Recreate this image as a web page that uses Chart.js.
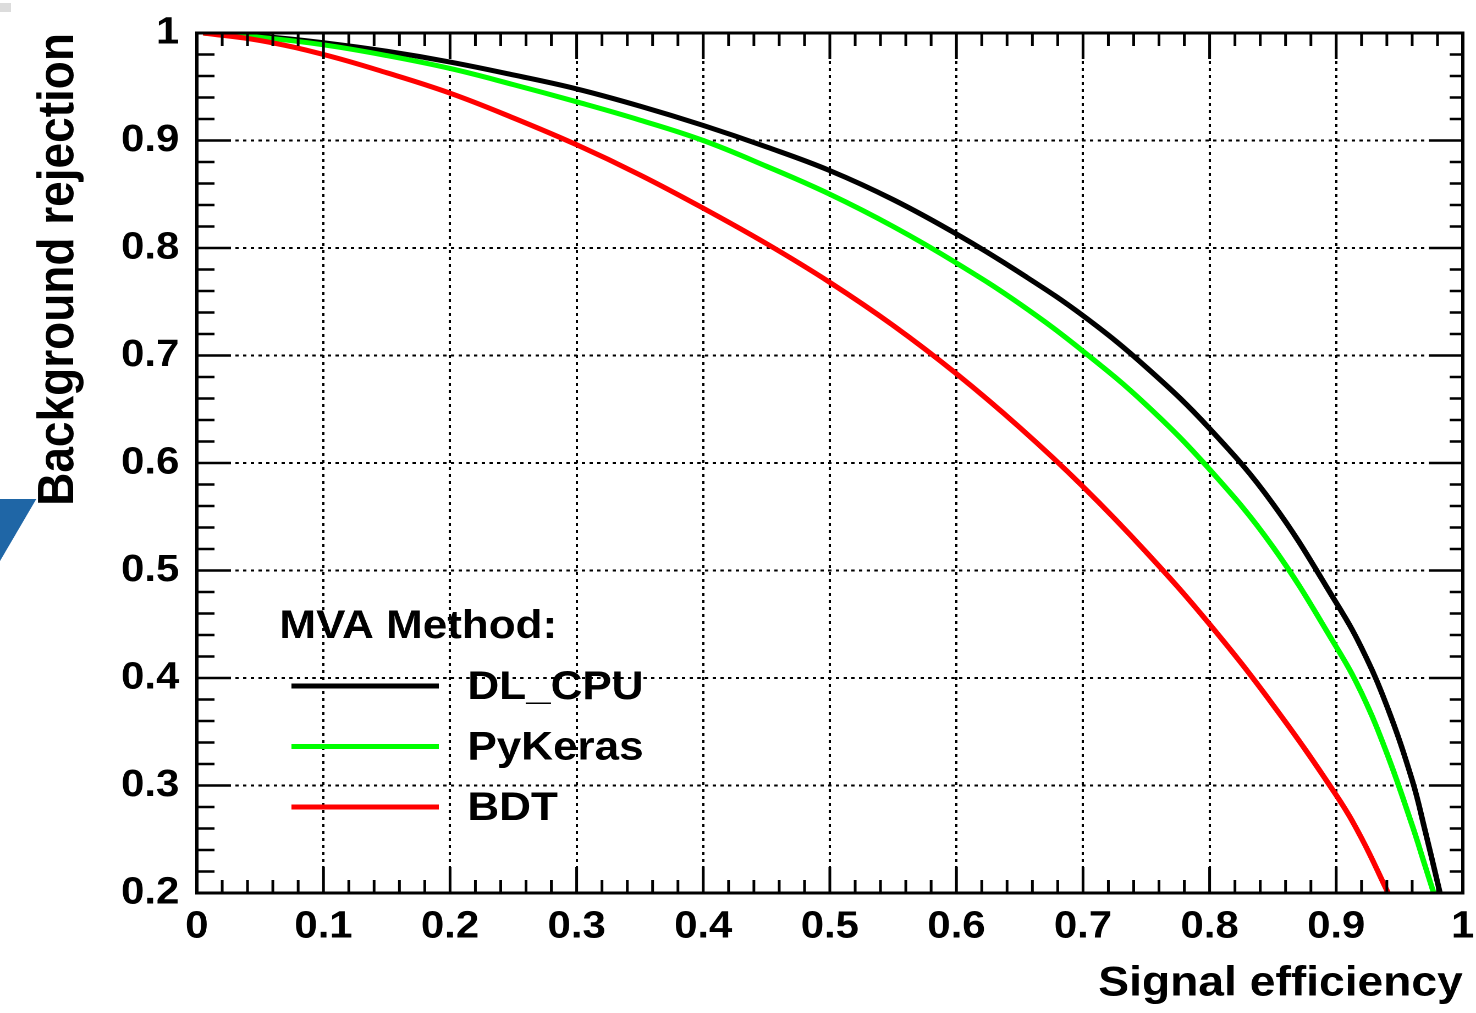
<!DOCTYPE html>
<html>
<head>
<meta charset="utf-8">
<title>ROC curves</title>
<script src="https://cdn.jsdelivr.net/npm/chart.js@4.4.1/dist/chart.umd.min.js"></script>
<style>
  html, body { margin: 0; padding: 0; background: #fff; overflow: hidden; }
  /* the reference is a slightly wide-stretched ROOT canvas, so draw narrow and stretch */
  #roc { display: block; width: 1476px; height: 1013px; }
</style>
</head>
<body>
<canvas id="roc" width="1342" height="1013" style="width:1476px;height:1013px"></canvas>
<script>
// ===== ROC data (signal efficiency vs background rejection) =====
const dlCpuEff   = [0.005, 0.05, 0.1, 0.15, 0.2, 0.25, 0.3, 0.35, 0.4, 0.45, 0.5, 0.55, 0.6, 0.65, 0.7, 0.75, 0.8, 0.85, 0.9, 0.92, 0.94, 0.96, 0.97, 0.98, 0.982];
const dlCpuRej   = [1.000, 0.997, 0.991, 0.983, 0.973, 0.961, 0.948, 0.932, 0.914, 0.894, 0.872, 0.845, 0.813, 0.777, 0.737, 0.689, 0.632, 0.562, 0.470, 0.428, 0.374, 0.305, 0.259, 0.210, 0.200];
const pyKerasEff = [0.005, 0.05, 0.1, 0.15, 0.2, 0.25, 0.3, 0.35, 0.4, 0.45, 0.5, 0.55, 0.6, 0.65, 0.7, 0.75, 0.8, 0.85, 0.9, 0.92, 0.94, 0.96, 0.97, 0.977];
const pyKerasRej = [1.000, 0.996, 0.989, 0.979, 0.967, 0.952, 0.936, 0.919, 0.900, 0.876, 0.850, 0.820, 0.786, 0.748, 0.704, 0.654, 0.594, 0.522, 0.429, 0.386, 0.330, 0.263, 0.226, 0.200];
const bdtEff     = [0.005, 0.05, 0.1, 0.15, 0.2, 0.25, 0.3, 0.35, 0.4, 0.45, 0.5, 0.55, 0.6, 0.65, 0.7, 0.75, 0.8, 0.85, 0.9, 0.92, 0.941];
const bdtRej     = [1.000, 0.993, 0.980, 0.963, 0.944, 0.921, 0.896, 0.868, 0.837, 0.804, 0.768, 0.728, 0.683, 0.633, 0.578, 0.517, 0.450, 0.375, 0.291, 0.251, 0.200];

const methodNames  = ['DL_CPU', 'PyKeras', 'BDT'];
const methodColors = ['#000000', '#00ff00', '#ff0000'];
const legendHeader = 'MVA Method:';
const xTitle = 'Signal efficiency';
const yTitle = 'Background rejection';

Chart.defaults.font.family = "'Liberation Sans', Arial, Helvetica, sans-serif";
Chart.defaults.font.weight = 'bold';
Chart.defaults.color = '#000';

const toPoints = (xs, ys) => xs.map((v, i) => ({ x: v, y: ys[i] }));
const rootLabel = v => String(Math.round(v * 10) / 10);   // ROOT prints 1 and 0, not 1.0

// ROOT-like frame: inner ticks on all four sides + legend box
const rootFrame = {
    id: 'rootFrame',
    beforeDraw(chart) {
        const { ctx, width, height } = chart;
        ctx.save();
        ctx.fillStyle = '#fff';
        ctx.fillRect(0, 0, width, height);
        // leftovers of the slide behind the plot
        ctx.fillStyle = '#dcdcdc';
        ctx.fillRect(0, 3, 10, 9);
        ctx.fillStyle = '#1f66a6';
        ctx.beginPath();
        ctx.moveTo(0, 499); ctx.lineTo(33, 499); ctx.lineTo(0, 561);
        ctx.closePath(); ctx.fill();
        ctx.restore();
    },
    afterDraw(chart) {
        const { ctx, chartArea: a, scales: { x, y } } = chart;
        ctx.save();
        ctx.strokeStyle = '#000';
        ctx.lineWidth = 2.5;
        ctx.beginPath();
        for (let i = 0; i <= 50; i++) {
            const px = x.getPixelForValue(i / 50);
            const len = i % 5 === 0 ? 26 : 13;
            ctx.moveTo(px, a.bottom); ctx.lineTo(px, a.bottom - len);
            ctx.moveTo(px, a.top); ctx.lineTo(px, a.top + len);
        }
        for (let i = 0; i <= 40; i++) {
            const py = y.getPixelForValue(0.2 + i * 0.02);
            const major = i % 5 === 0;
            ctx.moveTo(a.left, py); ctx.lineTo(a.left + (major ? 31 : 16), py);
            ctx.moveTo(a.right, py); ctx.lineTo(a.right - (major ? 31 : 12), py);
        }
        ctx.stroke();
        ctx.lineWidth = 3;
        ctx.strokeRect(a.left, a.top, a.right - a.left, a.bottom - a.top);

        // legend
        ctx.fillStyle = '#000';
        ctx.font = "bold 40px 'Liberation Sans', Arial, sans-serif";
        ctx.textBaseline = 'alphabetic';
        ctx.textAlign = 'left';
        ctx.fillText(legendHeader, 254, 638);
        chart.data.datasets.forEach((ds, i) => {
            const ly = 686 + i * 60.5;
            ctx.strokeStyle = ds.borderColor;
            ctx.lineWidth = 5;
            ctx.beginPath();
            ctx.moveTo(265, ly); ctx.lineTo(399, ly);
            ctx.stroke();
            ctx.fillText(ds.label, 425, ly + 13);
        });
        ctx.restore();
    }
};

new Chart(document.getElementById('roc'), {
    type: 'scatter',
    data: {
        datasets: [
            { label: methodNames[0], data: toPoints(dlCpuEff, dlCpuRej) },
            { label: methodNames[1], data: toPoints(pyKerasEff, pyKerasRej) },
            { label: methodNames[2], data: toPoints(bdtEff, bdtRej) }
        ].map((ds, i) => Object.assign(ds, {
            borderColor: methodColors[i], backgroundColor: methodColors[i],
            showLine: true, borderWidth: 5, pointRadius: 0,
            tension: 0.4, order: 2 - i
        }))
    },
    options: {
        responsive: false, animation: false, devicePixelRatio: 2,
        layout: { padding: { top: 33, right: 12, left: 0, bottom: 0 } },
        plugins: { legend: { display: false }, tooltip: { enabled: false } },
        scales: {
            x: {
                type: 'linear', min: 0, max: 1,
                afterFit(s) { s.height = 120; s.paddingLeft = 0; s.paddingRight = 0; },
                ticks: { stepSize: 0.1, padding: 11, font: { size: 38, weight: 'bold' }, maxRotation: 0, callback: rootLabel },
                grid: { color: '#000', lineWidth: 2, drawTicks: false },
                border: { display: false, dash: [3, 4] },
                title: { display: true, text: xTitle, align: 'end', font: { size: 42, weight: 'bold' }, padding: { top: 0, bottom: 4 } }
            },
            y: {
                type: 'linear', min: 0.2, max: 1,
                afterFit(s) { s.width = 179; s.paddingTop = 0; s.paddingBottom = 0; },
                ticks: { stepSize: 0.1, padding: 16, font: { size: 38, weight: 'bold' }, callback: rootLabel },
                grid: { color: '#000', lineWidth: 2, drawTicks: false },
                border: { display: false, dash: [3, 4] },
                title: { display: true, text: yTitle, align: 'end', font: { size: 46, weight: 'bold' }, padding: 26 }
            }
        }
    },
    plugins: [rootFrame]
});
</script>
</body>
</html>
